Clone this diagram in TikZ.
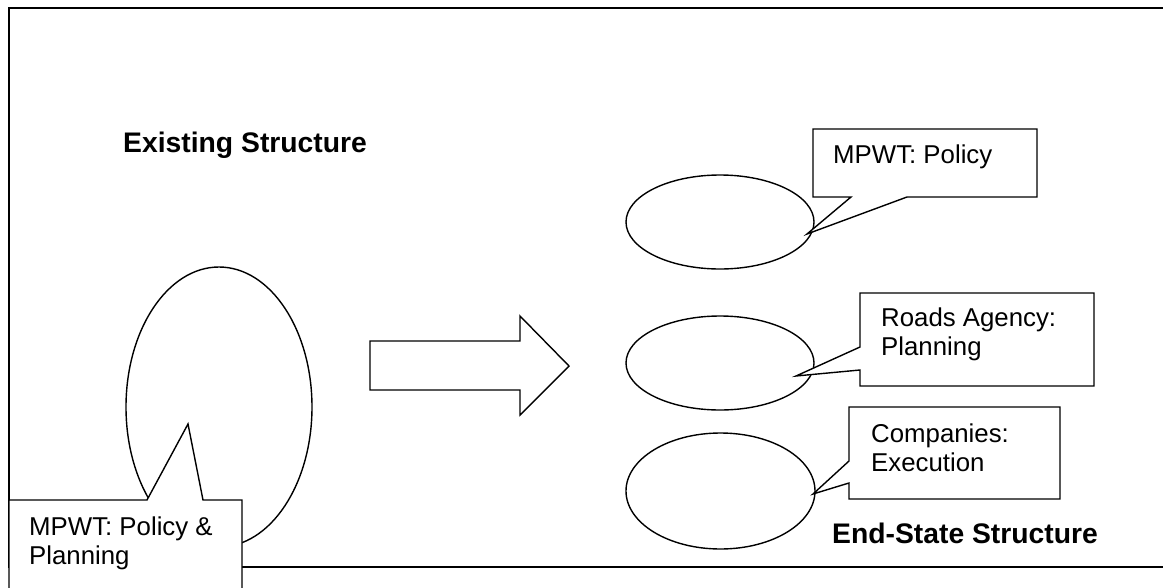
\documentclass[tikz,border=0pt]{standalone}
\usepackage{fontspec}
\setmainfont{Liberation Sans}
\usetikzlibrary{shapes.geometric}
\tikzset{
  ell/.style={draw, ellipse, line width=1.4pt, inner sep=0pt, fill=white},
  callout/.style={draw, fill=white, line width=1.4pt, line join=miter},
  frame/.style={draw, line width=1.8pt},
  blockarrow/.style={draw, fill=white, line width=1.4pt, line join=miter},
  label/.style={anchor=base west, inner sep=0pt, font=\fontsize{25.8}{29.5}\selectfont},
  title/.style={anchor=base west, inner sep=0pt, font=\fontsize{28.3}{32}\selectfont\bfseries}
}
\newcommand{\twolines}[2]{\begin{tabular}[t]{@{}l@{}}#1\\#2\end{tabular}}
\begin{document}
\begin{tikzpicture}[x=1pt,y=-1pt]
\useasboundingbox (0,0) rectangle (1163,587);
\clip (0,0) rectangle (1163,587);
% outer frame
\draw[frame] (1200,8) -- (9,8) -- (9,567) -- (1200,567);
% ellipses
\node[ell, minimum width=186pt, minimum height=280pt] (big) at (219,407) {};
\node[ell, minimum width=188pt, minimum height=94pt] (e1) at (720,222) {};
\node[ell, minimum width=188pt, minimum height=94pt] (e2) at (720,363) {};
\node[ell, minimum width=189pt, minimum height=116pt] (e3) at (720.5,491) {};
% block arrow
\draw[blockarrow] (370,341) -- (520,341) -- (520,316) -- (569,366) -- (520,415) -- (520,390) -- (370,390) -- cycle;
% pointer tips
\coordinate (t0) at (188,424);
\coordinate (t1) at (807,234);
\coordinate (t2) at (796,376);
\coordinate (t3) at (813,494);
% callouts
\draw[callout] (813,129) -- (1037,129) -- (1037,197) -- (907,197) -- (t1) -- (851,197) -- (813,197) -- cycle;
\draw[callout] (860,293) -- (1094,293) -- (1094,386) -- (860,386) -- (860,370) -- (t2) -- (860,347) -- cycle;
\draw[callout] (849,407) -- (1060,407) -- (1060,499) -- (849,499) -- (849,483) -- (t3) -- (849,461) -- cycle;
\draw[callout] (9,620) -- (9,500) -- (147,500) -- (t0) -- (203,500) -- (242,500) -- (242,620);
% texts
\node[title] (existing) at (123,152) {Existing Structure};
\node[title] (endstate) at (832,543) {End-State Structure};
\node[label] (c1) at (833,163) {MPWT: Policy};
\node[label] (c2) at (881,326) {\twolines{Roads Agency:}{Planning}};
\node[label] (c3) at (871,442) {\twolines{Companies:}{Execution}};
\node[label] (c0) at (29,535) {\twolines{MPWT: Policy \&}{Planning}};
\end{tikzpicture}
\end{document}
